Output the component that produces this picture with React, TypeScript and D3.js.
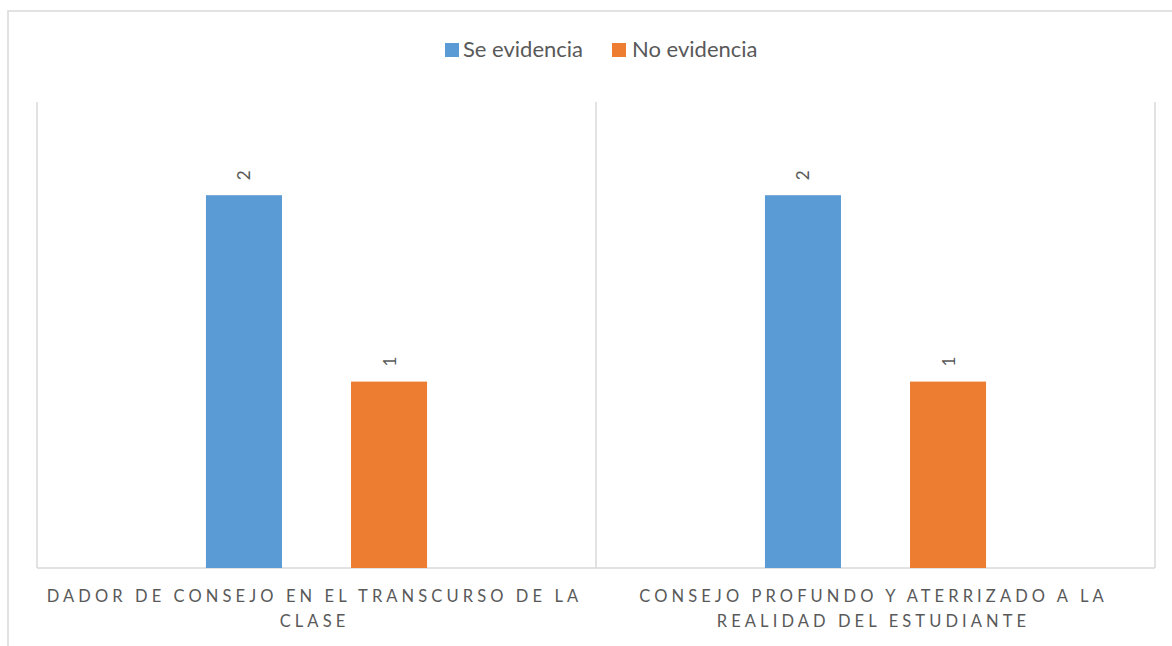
import React from "react";
import * as d3 from "d3";

const categories = [
  ["DADOR DE CONSEJO EN EL TRANSCURSO DE LA", "CLASE"],
  ["CONSEJO PROFUNDO Y ATERRIZADO A LA", "REALIDAD DEL ESTUDIANTE"],
];
const seriesNames = ["Se evidencia", "No evidencia"];
const seEvidencia = [2, 2];
const noEvidencia = [1, 1];
const colors = ["#5B9BD5", "#ED7D31"];

const W = 1172;
const H = 646;
const plot = { left: 37, right: 1155, top: 102, bottom: 568 };
const FONT = "Lato, 'Open Sans', sans-serif";
const GRID = "#D9D9D9";
const TEXT = "#595959";

export default function App() {
  const series = [seEvidencia, noEvidencia];
  const x0 = d3
    .scaleBand<number>()
    .domain(categories.map((_, i) => i))
    .range([plot.left, plot.right])
    .padding(0);
  const y = d3.scaleLinear().domain([0, 2.5]).range([plot.bottom, plot.top]);
  const bw = x0.bandwidth();
  const barW = bw * 0.136;
  const gap = bw * 0.1235;
  const groupW = barW * 2 + gap;

  const legendItems = [
    { x: 445, textX: 463 },
    { x: 612, textX: 632 },
  ];

  return (
    <svg
      width={W}
      height={H}
      style={{ position: "absolute", left: 0, top: 0, display: "block", background: "#fff" }}
    >
      <rect x={8} y={11} width={1300} height={800} fill="#fff" stroke={GRID} strokeWidth={1.5} />
      {/* legend */}
      {seriesNames.map((name, i) => (
        <g key={name}>
          <rect x={legendItems[i].x} y={43} width={14} height={14} fill={colors[i]} />
          <text x={legendItems[i].textX} y={57} fontFamily={FONT} fontSize={22} fill={TEXT}>
            {name}
          </text>
        </g>
      ))}
      {/* vertical category separators */}
      {[...categories.map((_, i) => x0(i)!), plot.right].map((xv, i) => (
        <line key={i} x1={xv} x2={xv} y1={plot.top} y2={plot.bottom} stroke={GRID} strokeWidth={1.5} />
      ))}
      {/* baseline */}
      <line x1={plot.left} x2={plot.right} y1={y(0)} y2={y(0)} stroke={GRID} strokeWidth={1.5} />
      {/* bars */}
      {categories.map((_, ci) => {
        const cx = x0(ci)! + bw / 2;
        const start = cx - groupW / 2;
        return series.map((vals, si) => {
          const bx = start + si * (barW + gap);
          const v = vals[ci];
          return (
            <g key={`${ci}-${si}`}>
              <rect x={bx} y={y(v)} width={barW} height={y(0) - y(v)} fill={colors[si]} />
              <text
                transform={`translate(${bx + barW / 2},${y(v) - 15}) rotate(-90)`}
                dominantBaseline="central"
                textAnchor="start"
                fontFamily={FONT}
                fontSize={17}
                fill={TEXT}
              >
                {v}
              </text>
            </g>
          );
        });
      })}
      {/* category labels */}
      {categories.map((lines, ci) => {
        const cx = x0(ci)! + bw / 2;
        return lines.map((ln, li) => (
          <text
            key={`${ci}-${li}`}
            x={cx - 2}
            y={602 + li * 25}
            textAnchor="middle"
            fontFamily={FONT}
            fontSize={16.5}
            letterSpacing={4.1}
            fill={TEXT}
          >
            {ln}
          </text>
        ));
      })}
    </svg>
  );
}
